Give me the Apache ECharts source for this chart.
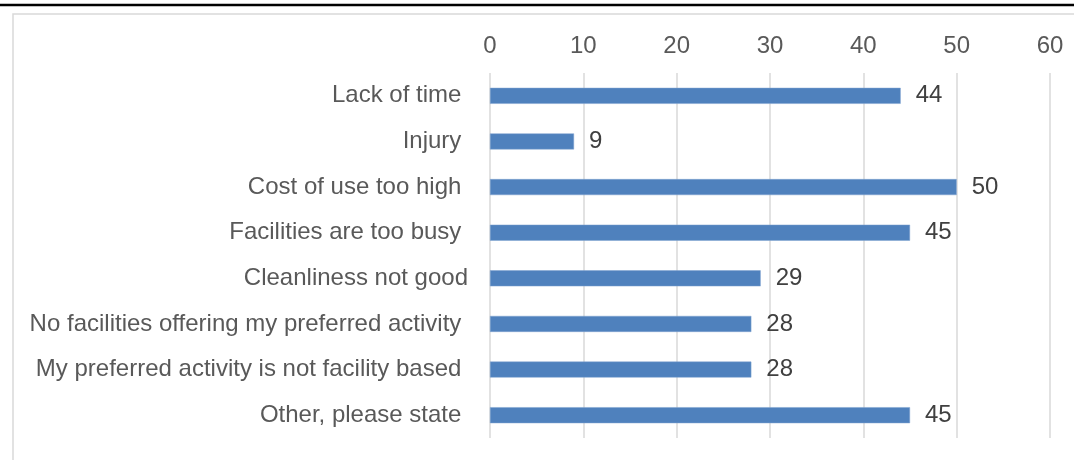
<!DOCTYPE html>
<html>
<head>
<meta charset="utf-8">
<script src="https://cdn.jsdelivr.net/npm/echarts@6/dist/echarts.min.js"></script>
<style>
html,body{margin:0;padding:0;background:#fff;}
#chart{width:1074px;height:460px;}
</style>
</head>
<body>
<div id="chart"></div>
<script>
var categories = [
  "Lack of time ",
  "Injury ",
  "Cost of use too high ",
  "Facilities are too busy ",
  "Cleanliness not good",
  "No facilities offering my preferred activity ",
  "My preferred activity is not facility based ",
  "Other, please state "
];
var values = [44, 9, 50, 45, 29, 28, 28, 45];
var axisMin = 0, axisMax = 60, axisStep = 10;

var chart = echarts.init(document.getElementById('chart'), null, {renderer: 'canvas'});
chart.setOption({
  animation: false,
  backgroundColor: '#ffffff',
  textStyle: {fontFamily: 'Liberation Sans, Arial, sans-serif'},
  graphic: [
    {type: 'line', shape: {x1: 0, y1: 5, x2: 1074, y2: 5}, style: {stroke: '#000000', lineWidth: 2.5}, silent: true},
    {type: 'rect', shape: {x: 13, y: 14, width: 1100, height: 500}, style: {fill: 'none', stroke: '#D9D9D9', lineWidth: 1.5}, silent: true}
  ],
  grid: {left: 490, right: 24, top: 73, bottom: 22, containLabel: false},
  xAxis: {
    type: 'value',
    position: 'top',
    min: axisMin, max: axisMax, interval: axisStep,
    axisLine: {show: false},
    axisTick: {show: false},
    axisLabel: {color: '#595959', fontSize: 24, margin: 15, fontFamily: 'Liberation Sans, Arial, sans-serif'},
    splitLine: {show: true, lineStyle: {color: '#D9D9D9', width: 1.5}}
  },
  yAxis: {
    type: 'category',
    inverse: true,
    data: categories,
    axisLine: {show: false},
    axisTick: {show: false},
    axisLabel: {color: '#595959', fontSize: 24, margin: 22, fontFamily: 'Liberation Sans, Arial, sans-serif', padding: [3, 0, 0, 0]}
  },
  series: [{
    type: 'bar',
    data: values,
    barWidth: 16,
    itemStyle: {color: '#4F81BD', borderColor: '#7FA3D0', borderWidth: 0.5},
    label: {show: true, position: 'right', distance: 15, color: '#404040', fontSize: 24, fontFamily: 'Liberation Sans, Arial, sans-serif', padding: [3, 0, 0, 0]}
  }]
});
</script>
</body>
</html>
